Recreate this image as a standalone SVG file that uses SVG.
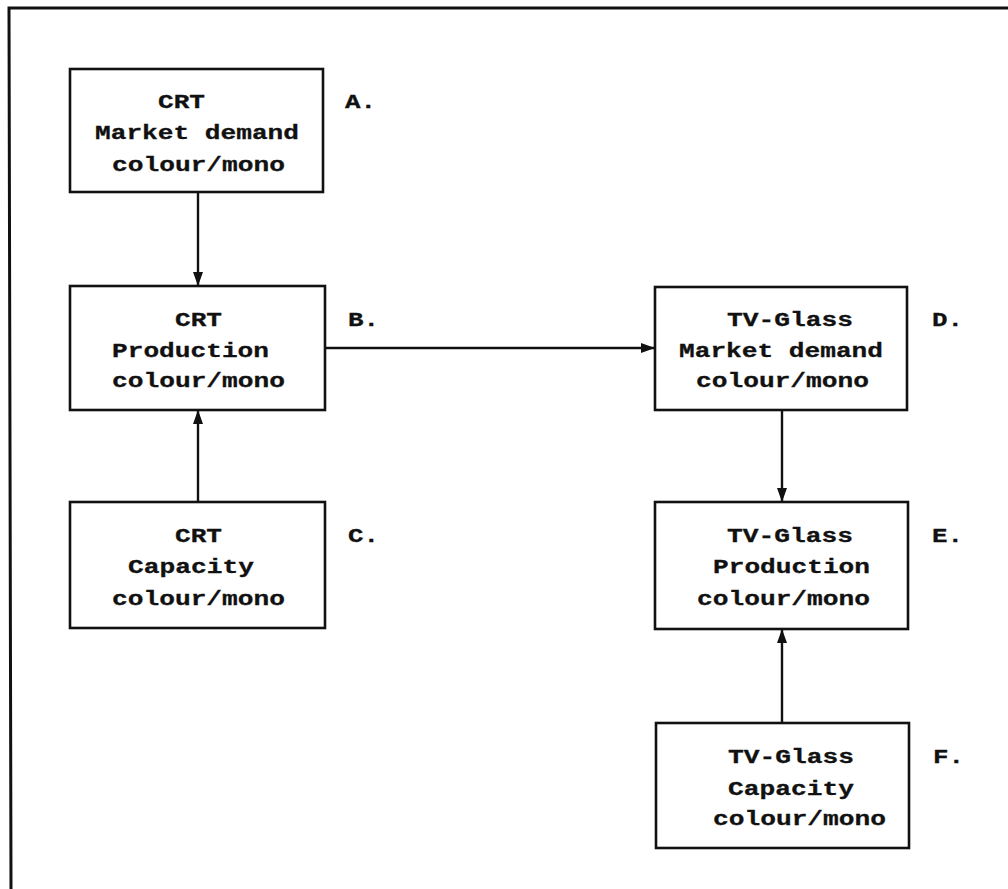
<svg xmlns="http://www.w3.org/2000/svg" width="1008" height="889" viewBox="0 0 1008 889">
<style>
.box{fill:#fff;stroke:#111;stroke-width:2.6}
.t{font-family:"Liberation Mono","Courier New",monospace;font-weight:bold;font-size:20px;fill:#111;stroke:#111;stroke-width:0.3}
.c{stroke:#111;stroke-width:2.4;fill:none}
</style>
<defs>
<marker id="ah" viewBox="0 0 14 10" refX="14" refY="5" markerWidth="14" markerHeight="10" markerUnits="userSpaceOnUse" orient="auto">
<path d="M0,0 L14,5 L0,10 Z" fill="#111"/>
</marker>
</defs>
<rect width="1008" height="889" fill="#fff"/>
<path d="M1008,8 L9,8 L11,889" fill="none" stroke="#111" stroke-width="3"/>
<g id="connectors">
<line class="c" x1="198" y1="192" x2="198" y2="286" marker-end="url(#ah)"/>
<line class="c" x1="198" y1="502" x2="198" y2="410" marker-end="url(#ah)"/>
<line class="c" x1="325" y1="348" x2="655" y2="348" marker-end="url(#ah)"/>
<line class="c" x1="782" y1="410" x2="782" y2="502" marker-end="url(#ah)"/>
<line class="c" x1="782" y1="723" x2="782" y2="629" marker-end="url(#ah)"/>
</g>
<g id="nodeA">
<rect class="box" x="70" y="69" width="253" height="123"/>
<text class="t" x="158" y="108" textLength="47" lengthAdjust="spacingAndGlyphs">CRT</text>
<text class="t" x="95" y="139" textLength="204" lengthAdjust="spacingAndGlyphs">Market demand</text>
<text class="t" x="112" y="171" textLength="173" lengthAdjust="spacingAndGlyphs">colour/mono</text>
<text class="t" x="345" y="108" textLength="31" lengthAdjust="spacingAndGlyphs">A.</text>
</g>
<g id="nodeB">
<rect class="box" x="70" y="286" width="255" height="124"/>
<text class="t" x="175" y="326" textLength="47" lengthAdjust="spacingAndGlyphs">CRT</text>
<text class="t" x="112" y="357" textLength="157" lengthAdjust="spacingAndGlyphs">Production</text>
<text class="t" x="112" y="387" textLength="173" lengthAdjust="spacingAndGlyphs">colour/mono</text>
<text class="t" x="348" y="326" textLength="31" lengthAdjust="spacingAndGlyphs">B.</text>
</g>
<g id="nodeC">
<rect class="box" x="70" y="502" width="255" height="126"/>
<text class="t" x="175" y="542" textLength="47" lengthAdjust="spacingAndGlyphs">CRT</text>
<text class="t" x="128" y="573" textLength="126" lengthAdjust="spacingAndGlyphs">Capacity</text>
<text class="t" x="112" y="605" textLength="173" lengthAdjust="spacingAndGlyphs">colour/mono</text>
<text class="t" x="348" y="542" textLength="31" lengthAdjust="spacingAndGlyphs">C.</text>
</g>
<g id="nodeD">
<rect class="box" x="655" y="287" width="252" height="123"/>
<text class="t" x="727" y="326" textLength="126" lengthAdjust="spacingAndGlyphs">TV-Glass</text>
<text class="t" x="679" y="357" textLength="204" lengthAdjust="spacingAndGlyphs">Market demand</text>
<text class="t" x="696" y="387" textLength="173" lengthAdjust="spacingAndGlyphs">colour/mono</text>
<text class="t" x="932" y="326" textLength="31" lengthAdjust="spacingAndGlyphs">D.</text>
</g>
<g id="nodeE">
<rect class="box" x="655" y="502" width="253" height="127"/>
<text class="t" x="727" y="542" textLength="126" lengthAdjust="spacingAndGlyphs">TV-Glass</text>
<text class="t" x="713" y="573" textLength="157" lengthAdjust="spacingAndGlyphs">Production</text>
<text class="t" x="697" y="605" textLength="173" lengthAdjust="spacingAndGlyphs">colour/mono</text>
<text class="t" x="932" y="542" textLength="31" lengthAdjust="spacingAndGlyphs">E.</text>
</g>
<g id="nodeF">
<rect class="box" x="656" y="723" width="253" height="125"/>
<text class="t" x="728" y="763" textLength="126" lengthAdjust="spacingAndGlyphs">TV-Glass</text>
<text class="t" x="728" y="795" textLength="126" lengthAdjust="spacingAndGlyphs">Capacity</text>
<text class="t" x="713" y="825" textLength="173" lengthAdjust="spacingAndGlyphs">colour/mono</text>
<text class="t" x="933" y="763" textLength="31" lengthAdjust="spacingAndGlyphs">F.</text>
</g>
</svg>
